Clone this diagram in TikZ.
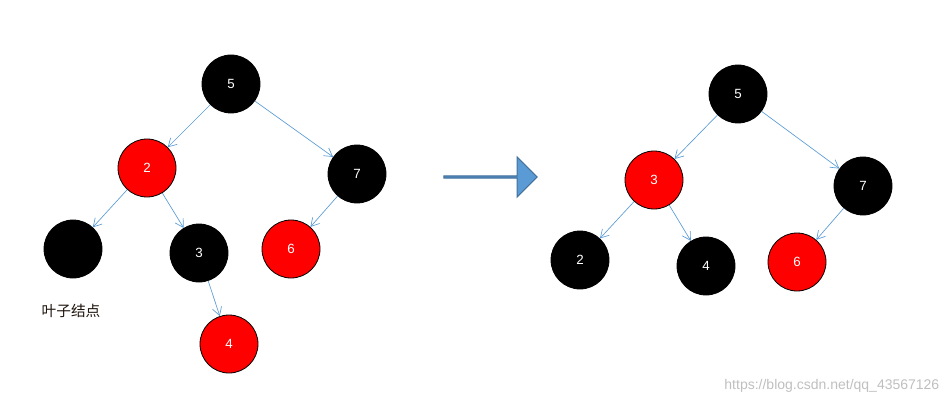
\documentclass[tikz,border=0pt]{standalone}
\usepackage{fontspec}
\setmainfont{Liberation Sans}
\newfontfamily\cjk{Noto Sans CJK SC}
\usetikzlibrary{arrows.meta,shapes.arrows}
\definecolor{edgeblue}{HTML}{5B9BD5}
\definecolor{arrowline}{HTML}{41719C}
\tikzset{
  rb/.style={circle,minimum size=43.5pt,inner sep=0pt,draw=black,line width=0.6pt,text=white,font=\fontsize{10}{12}\selectfont},
  bk/.style={rb,fill=black},
  rd/.style={rb,fill=red},
  ed/.style={draw=edgeblue,line width=0.5pt,-{Straight Barb[length=6pt,width=7pt]}}
}
\begin{document}
\begin{tikzpicture}[x=0.75pt,y=-0.75pt]
\useasboundingbox (0,0) rectangle (952,406);
% left tree
\node[bk] (l5) at (231,84) {5};
\node[rd] (l2) at (147,168) {2};
\node[bk] (l7) at (357,174) {7};
\node[bk] (lnil) at (73,249) {};
\node[bk] (l3) at (199,253) {3};
\node[rd] (l6) at (291,249) {6};
\node[rd] (l4) at (229,344) {4};
\draw[ed] (l5) -- (l2);
\draw[ed] (l5) -- (l7);
\draw[ed] (l2) -- (lnil);
\draw[ed] (l2) -- (l3);
\draw[ed] (l7) -- (l6);
\draw[ed] (l3) -- (l4);
\node[font=\cjk\fontsize{11}{13}\selectfont,text=black!85!brown] (leaf) at (71,311) {叶子结点};
% transform arrow
\node[single arrow,draw=arrowline,fill=edgeblue,line width=0.8pt,minimum height=70pt,minimum width=30pt,single arrow head extend=7.5pt,inner sep=0pt] (go) at (490,177) {};
% right tree
\node[bk] (r5) at (738,94) {5};
\node[rd] (r3) at (654,180) {3};
\node[bk] (r7) at (863,186) {7};
\node[bk] (r2) at (580,260) {2};
\node[bk] (r4) at (706,266) {4};
\node[rd] (r6) at (797,262) {6};
\draw[ed] (r5) -- (r3);
\draw[ed] (r5) -- (r7);
\draw[ed] (r3) -- (r2);
\draw[ed] (r3) -- (r4);
\draw[ed] (r7) -- (r6);
\node[text=black!25,font=\fontsize{10.5}{12}\selectfont,anchor=east] (mark) at (944,386) {https://blog.csdn.net/qq\_43567126};
\end{tikzpicture}
\end{document}
